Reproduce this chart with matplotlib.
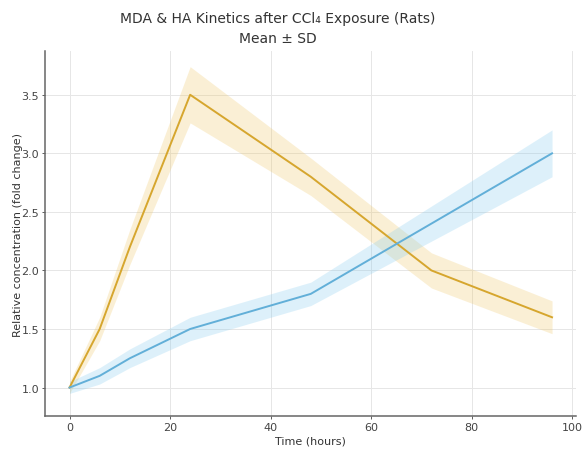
import matplotlib
matplotlib.use("Agg")
import matplotlib.pyplot as plt
import numpy as np

# sampling times (hours)
time_h = [0, 6, 12, 24, 48, 72, 96]

# MDA (yellow) mean / sd
mda_mean = [1.0, 1.5, 2.2, 3.5, 2.8, 2.0, 1.6]
mda_sd = [0.05, 0.1, 0.15, 0.24, 0.16, 0.15, 0.14]

# HA (blue) mean / sd
ha_mean = [1.0, 1.1, 1.25, 1.5, 1.8, 2.4, 3.0]
ha_sd = [0.05, 0.07, 0.08, 0.1, 0.1, 0.15, 0.2]

mda_color = "#D6A62E"
ha_color = "#62AFD8"

fig = plt.figure(figsize=(5.82, 4.56), dpi=100)
ax = fig.add_axes([0.078, 0.085, 0.912, 0.80])

t = np.array(time_h)
for mean, sd, col, band in [
    (mda_mean, mda_sd, mda_color, "#F0C868"),
    (ha_mean, ha_sd, ha_color, "#86CCF0"),
]:
    m = np.array(mean)
    s = np.array(sd)
    ax.fill_between(t, m - s, m + s, color=band, alpha=0.28, linewidth=0)
    ax.plot(t, m, color=col, linewidth=1.4)

ax.set_xlim(-4.8, 100.8)
ax.set_ylim(0.755, 3.87)
ax.set_xticks([0, 20, 40, 60, 80, 100])
ax.set_yticks([1.0, 1.5, 2.0, 2.5, 3.0, 3.5])

ax.grid(True, color="#E6E6E6", linewidth=0.7)
ax.set_axisbelow(True)
for side in ("top", "right"):
    ax.spines[side].set_visible(False)
for side in ("left", "bottom"):
    ax.spines[side].set_color("#666666")
    ax.spines[side].set_linewidth(1.1)
ax.tick_params(labelsize=8, colors="#444444", length=2.5, width=0.6, pad=2)

ax.set_xlabel("Time (hours)", fontsize=8, color="#333333", labelpad=2)
ax.set_ylabel("Relative concentration (fold change)", fontsize=8, color="#333333",
              labelpad=-1)
ax.set_title("MDA & HA Kinetics after CCl\u2084 Exposure (Rats)\nMean \u00b1 SD",
             fontsize=10, color="#333333", x=0.438, pad=7, linespacing=1.5)

fig.savefig("out.png", dpi=100)
